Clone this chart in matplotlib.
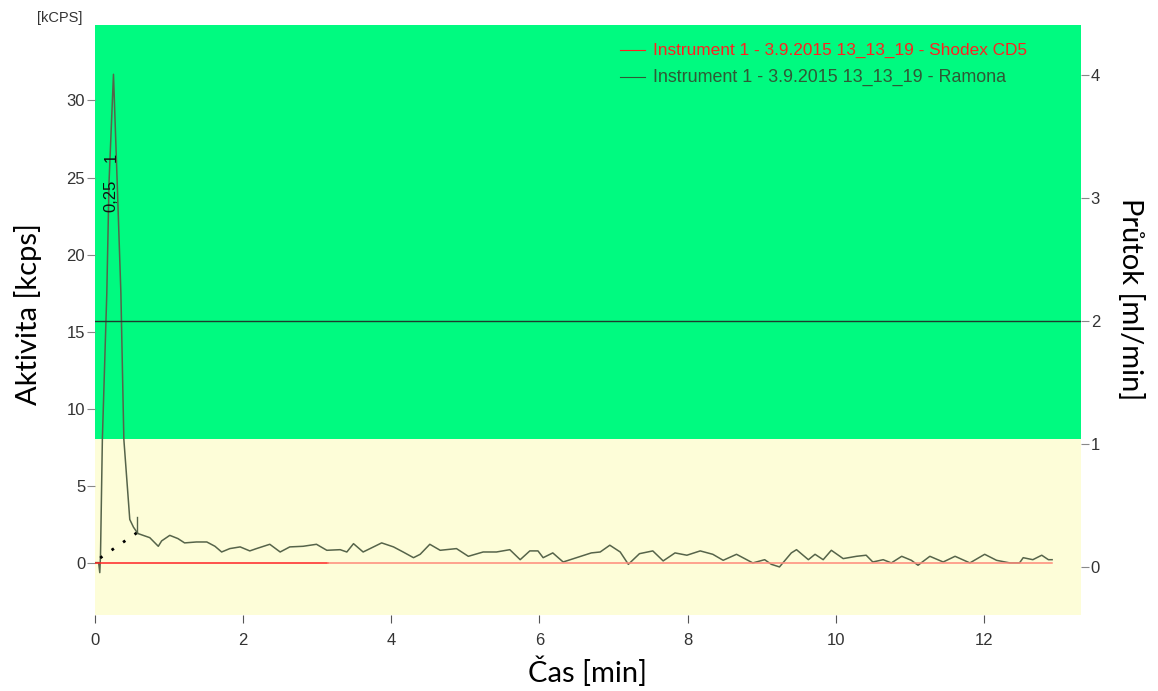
import numpy as np
import matplotlib
matplotlib.use('Agg')
import matplotlib.pyplot as plt

# Ramona trace (time in min, activity in kcps)
ramona_t = [0.0, 0.05, 0.065, 0.075, 0.10, 0.16, 0.19, 0.25, 0.30, 0.35, 0.39, 0.43, 0.47, 0.52, 0.57,
            0.585, 0.74, 0.855, 0.90, 1.01, 1.12, 1.21, 1.37, 1.51, 1.62, 1.71, 1.82, 1.96, 2.09, 2.18,
            2.36, 2.50, 2.63, 2.81, 2.99, 3.13, 3.31, 3.40, 3.49, 3.62, 3.76, 3.87, 4.03, 4.16, 4.30,
            4.39, 4.52, 4.66, 4.88, 5.04, 5.24, 5.42, 5.60, 5.74, 5.87, 5.98, 6.05, 6.18, 6.32, 6.50,
            6.70, 6.82, 6.95, 7.09, 7.20, 7.35, 7.53, 7.67, 7.83, 7.99, 8.17, 8.34, 8.48, 8.66, 8.88,
            9.04, 9.13, 9.24, 9.40, 9.47, 9.63, 9.72, 9.83, 9.94, 10.10, 10.28, 10.41, 10.50, 10.64,
            10.75, 10.89, 11.02, 11.11, 11.27, 11.45, 11.61, 11.81, 12.01, 12.17, 12.35, 12.48, 12.53,
            12.66, 12.78, 12.87, 12.92]
ramona_v = [0.0, 0.0, -0.65, 0.5, 8.0, 17.5, 24.7, 31.7, 24.7, 17.5, 8.0, 5.4, 2.8, 2.3, 1.95,
            1.88, 1.62, 1.06, 1.41, 1.77, 1.56, 1.28, 1.34, 1.34, 1.06, 0.69, 0.91, 1.02, 0.76, 0.91,
            1.19, 0.69, 1.02, 1.06, 1.19, 0.80, 0.84, 0.69, 1.23, 0.69, 1.02, 1.28, 1.02, 0.69, 0.32,
            0.54, 1.19, 0.80, 0.91, 0.41, 0.69, 0.69, 0.84, 0.19, 0.76, 0.76, 0.32, 0.63, 0.04, 0.32,
            0.63, 0.69, 1.13, 0.69, -0.11, 0.58, 0.76, 0.11, 0.63, 0.48, 0.76, 0.54, 0.15, 0.54, -0.02,
            0.19, -0.11, -0.28, 0.63, 0.84, 0.19, 0.54, 0.19, 0.80, 0.26, 0.41, 0.48, 0.04, 0.19,
            -0.02, 0.41, 0.15, -0.17, 0.41, 0.04, 0.41, -0.02, 0.54, 0.15, -0.02, -0.02, 0.32,
            0.19, 0.48, 0.19, 0.19]

# Shodex CD5 trace
shodex_t = [0.0, 3.15, 12.92]
shodex_v = [0.0, 0.0, 0.0]

# flow (ml/min)
flow_t = [0.0, 13.31]
flow_v = [2.0, 2.0]

# peak integration baseline and marker
base_t = [0.07, 0.57]
base_v = [0.3, 1.95]
peak_time = 0.25
peak_label = '0,25'
peak_num = '1'

fig = plt.figure(figsize=(11.58, 6.91), dpi=100)
ax = fig.add_axes([0.082, 0.110, 0.8515, 0.8538])
ax2 = ax.twinx()

ax.set_xlim(0, 13.31)
ax.set_ylim(-3.4, 34.9)
ax2.set_ylim(-0.39, 4.41)

ax.axhspan(8.05, 34.9, color='#00fa80', lw=0, zorder=0)
ax.axhspan(-3.4, 8.05, color='#fdfdd8', lw=0, zorder=0)

ax.plot(ramona_t, ramona_v, color='#56644a', lw=1.1, zorder=3)
ax.plot(shodex_t[:2], shodex_v[:2], color='#ff2424', lw=1.1, zorder=4)
ax.plot(shodex_t[1:], shodex_v[1:], color='#ff8a7a', lw=1.1, zorder=4)
ax.plot(base_t, base_v, color='black', lw=2.0, ls=(0, (1, 4)), zorder=3)
ax.plot([base_t[1], base_t[1]], [base_v[1], base_v[1] + 1.0], color='#56644a', lw=1.0, zorder=3)
ax2.plot(flow_t, flow_v, color='#1e3b2e', lw=1.0, zorder=2)

ax.text(peak_time - 0.03, 23.8, peak_label, rotation=90, ha='center', va='center',
        fontsize=12, family='Liberation Sans', color='#111111')
ax.text(peak_time - 0.03, 26.3, peak_num, rotation=90, ha='center', va='center',
        fontsize=12, family='Liberation Sans', color='#111111')

# legend as text
lx0, lx1, ltx = 620 / 1158, 645 / 1158, 653 / 1158
for yy, col, lab, fs in [(1 - 50 / 691, '#ff2020', 'Instrument 1 - 3.9.2015 13_13_19 - Shodex CD5', 12.4),
                         (1 - 77 / 691, '#2e5a35', 'Instrument 1 - 3.9.2015 13_13_19 - Ramona', 12.9)]:
    fig.add_artist(plt.Line2D([lx0, lx1], [yy, yy], color=col, lw=0.8, transform=fig.transFigure))
    fig.text(ltx, yy, lab, color=col, fontsize=fs, family='Liberation Sans', va='center')

for a in (ax, ax2):
    for s in a.spines.values():
        s.set_visible(False)

ax.set_xticks(range(0, 13, 2))
ax.set_yticks(range(0, 31, 5))
ax2.set_yticks(range(0, 5))
ax.tick_params(axis='y', length=6, width=0.8, color='#888888', labelsize=12, labelcolor='#333333', pad=1)
ax.tick_params(axis='x', length=6, width=0.8, color='#555555', labelsize=12, labelcolor='#333333', pad=7)
ax2.tick_params(axis='y', length=6, width=0.8, color='#888888', labelsize=12, labelcolor='#333333', pad=1)
for lab in ax.get_xticklabels() + ax.get_yticklabels() + ax2.get_yticklabels():
    lab.set_family('Liberation Sans')

ax.set_xlabel('Čas [min]', fontsize=21, family='Lato', labelpad=6)
ax.set_ylabel('Aktivita [kcps]', fontsize=21, family='Lato')
ax.yaxis.set_label_coords(-0.054, 0.51)
ax2.set_ylabel('Průtok [ml/min]', fontsize=21, family='Lato', rotation=-90)
ax2.yaxis.set_label_coords(1.064, 0.535)

fig.text(37 / 1158, 1 - 18 / 691, '[kCPS]', fontsize=10.5, family='Liberation Sans', color='#333333', va='center')

fig.savefig('out.png', dpi=100)
